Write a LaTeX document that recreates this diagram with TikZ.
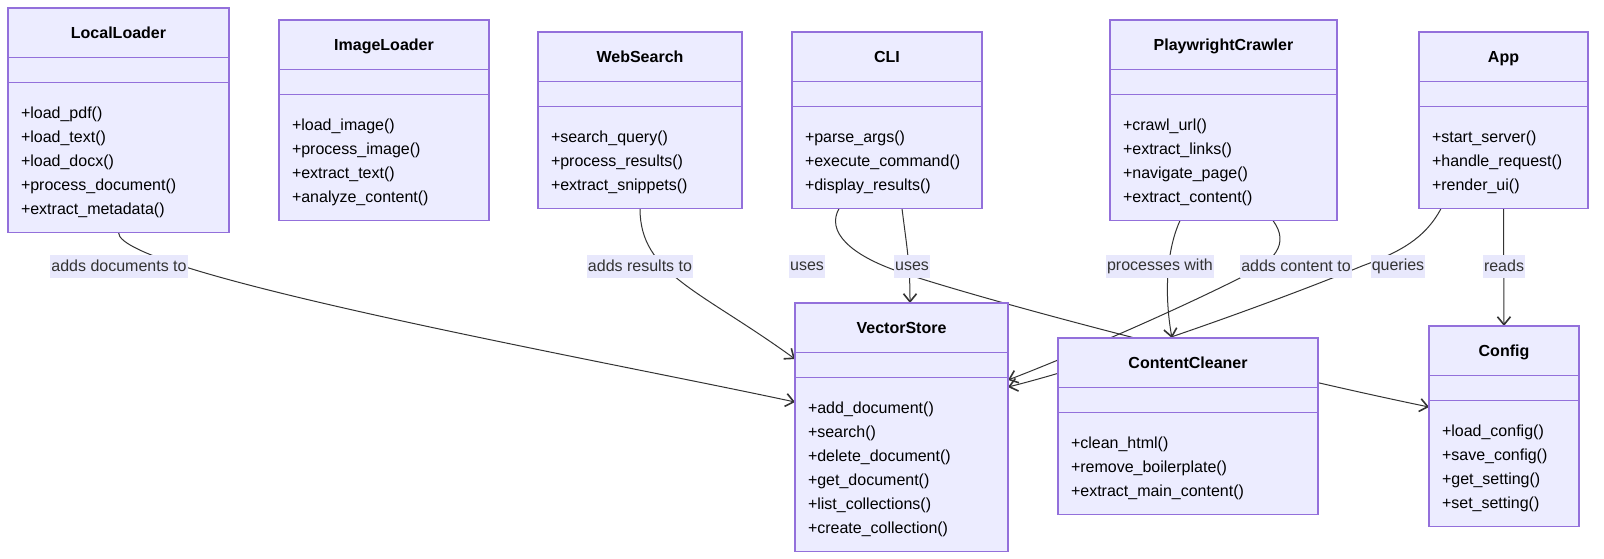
\documentclass[tikz,border=0pt]{standalone}
\usepackage{fontspec}
\setmainfont{Liberation Sans}
\usetikzlibrary{shapes.multipart, arrows.meta, calc, backgrounds}

\definecolor{classfill}{HTML}{ECECFF}
\definecolor{classline}{HTML}{9370DB}
\definecolor{edgeline}{HTML}{333333}
\definecolor{labelfill}{HTML}{E8E8FC}

% the three compartments of a class box
\newcommand{\umltitle}[2]{\rule[-18pt]{0pt}{48pt}\makebox[\dimexpr#1pt-26pt\relax]{\textbf{#2}}}
\newcommand{\umlgap}{\rule{0pt}{24pt}}
\newcommand{\umlops}[1]{{\let\\\cr\vtop{\baselineskip=24pt\lineskiplimit=0pt\halign{##\hfil\cr\rule{0pt}{35pt}#1\rule[-18pt]{0pt}{18pt}\cr}}}}

\begin{document}
\begin{tikzpicture}[x=1pt,y=-1pt,
    classbox/.style={rectangle split, rectangle split parts=3,
      rectangle split part align={center,left,left},
      draw=classline, fill=classfill, line width=1.2pt,
      inner xsep=13pt, inner ysep=0pt, outer sep=0pt, anchor=north west,
      text=black, font=\fontsize{16}{24}\selectfont},
    edgelabel/.style={fill=labelfill, text=edgeline, inner xsep=1pt, inner ysep=0pt,
      minimum height=23pt, font=\fontsize{16}{24}\selectfont},
    rel/.style={draw=edgeline, line width=1pt, -{Straight Barb[length=8pt,width=13pt,line width=1.6pt]}}]
    \useasboundingbox (0,0) rectangle (1604,558);

    % classes
    \node[classbox] (LocalLoader) at (8,8) {\umltitle{221}{LocalLoader}\nodepart{two}\umlgap\nodepart{three}\umlops{+load\_pdf()\\+load\_text()\\+load\_docx()\\+process\_document()\\+extract\_metadata()}};
    \node[classbox] (ImageLoader) at (279,20) {\umltitle{210}{ImageLoader}\nodepart{two}\umlgap\nodepart{three}\umlops{+load\_image()\\+process\_image()\\+extract\_text()\\+analyze\_content()}};
    \node[classbox] (WebSearch) at (538,32) {\umltitle{204}{WebSearch}\nodepart{two}\umlgap\nodepart{three}\umlops{+search\_query()\\+process\_results()\\+extract\_snippets()}};
    \node[classbox] (CLI) at (792,32) {\umltitle{190}{CLI}\nodepart{two}\umlgap\nodepart{three}\umlops{+parse\_args()\\+execute\_command()\\+display\_results()}};
    \node[classbox] (PlaywrightCrawler) at (1110,20) {\umltitle{227}{PlaywrightCrawler}\nodepart{two}\umlgap\nodepart{three}\umlops{+crawl\_url()\\+extract\_links()\\+navigate\_page()\\+extract\_content()}};
    \node[classbox] (App) at (1419,32) {\umltitle{169}{App}\nodepart{two}\umlgap\nodepart{three}\umlops{+start\_server()\\+handle\_request()\\+render\_ui()}};
    \node[classbox] (VectorStore) at (795,303) {\umltitle{213}{VectorStore}\nodepart{two}\umlgap\nodepart{three}\umlops{+add\_document()\\+search()\\+delete\_document()\\+get\_document()\\+list\_collections()\\+create\_collection()}};
    \node[classbox] (ContentCleaner) at (1058,338) {\umltitle{260}{ContentCleaner}\nodepart{two}\umlgap\nodepart{three}\umlops{+clean\_html()\\+remove\_boilerplate()\\+extract\_main\_content()}};
    \node[classbox] (Config) at (1429,326) {\umltitle{150}{Config}\nodepart{two}\umlgap\nodepart{three}\umlops{+load\_config()\\+save\_config()\\+get\_setting()\\+set\_setting()}};

    % edge labels
    \node[edgelabel] (lDocs) at (119,266) {adds documents to};
    \node[edgelabel] (lResults) at (640,266) {adds results to};
    \node[edgelabel] (lUsesCfg) at (807,266) {uses};
    \node[edgelabel] (lUsesVs) at (912,266) {uses};
    \node[edgelabel] (lProc) at (1160,266) {processes with};
    \node[edgelabel] (lContent) at (1296,266) {adds content to};
    \node[edgelabel] (lQueries) at (1398,266) {queries};
    \node[edgelabel] (lReads) at (1504,266) {reads};

    % relations, behind the boxes
    \begin{pgfonlayer}{background}
    \fill[white] (0,0) rectangle (1604,558);
    \draw[rel] (LocalLoader.south) .. controls +(0,41) and +(-195,-42) .. ($(VectorStore.north west)+(0,99)$);
    \draw[rel] (WebSearch.south) .. controls +(0,65) and +(-95,-69) .. ($(VectorStore.north west)+(0,56)$);
    \draw[rel] ($(CLI.south)+(15,0)$) .. controls +(5,40) and +(0,-40) .. ($(VectorStore.north)+(8.5,0)$);
    \draw[rel] ($(CLI.south)+(-48,0)$) .. controls +(-13,23) and +(-50,-17) .. (900,272)
          .. controls +(100,33) and +(-179,-37) .. ($(Config.north west)+(0,81)$);
    \draw[rel] ($(PlaywrightCrawler.south)+(-43.5,0)$) .. controls +(-15,33) and +(-7,-38) .. ($(ContentCleaner.north)+(-16,0)$);
    \draw[rel] ($(PlaywrightCrawler.south)+(49.5,0)$) .. controls +(17,23) and +(35,-16) .. (1240,278)
          .. controls +(-80,40) and +(52,-20) .. ($(VectorStore.north east)+(0,77)$);
    \draw[rel] ($(App.south)+(-62.5,0)$) .. controls +(-16,30) and +(38,-14) .. (1362,266)
          .. controls +(-82,34) and +(100,-25) .. ($(VectorStore.north east)+(0,84)$);
    \draw[rel] (App.south) -- (Config.north);
    \end{pgfonlayer}
\end{tikzpicture}
\end{document}
